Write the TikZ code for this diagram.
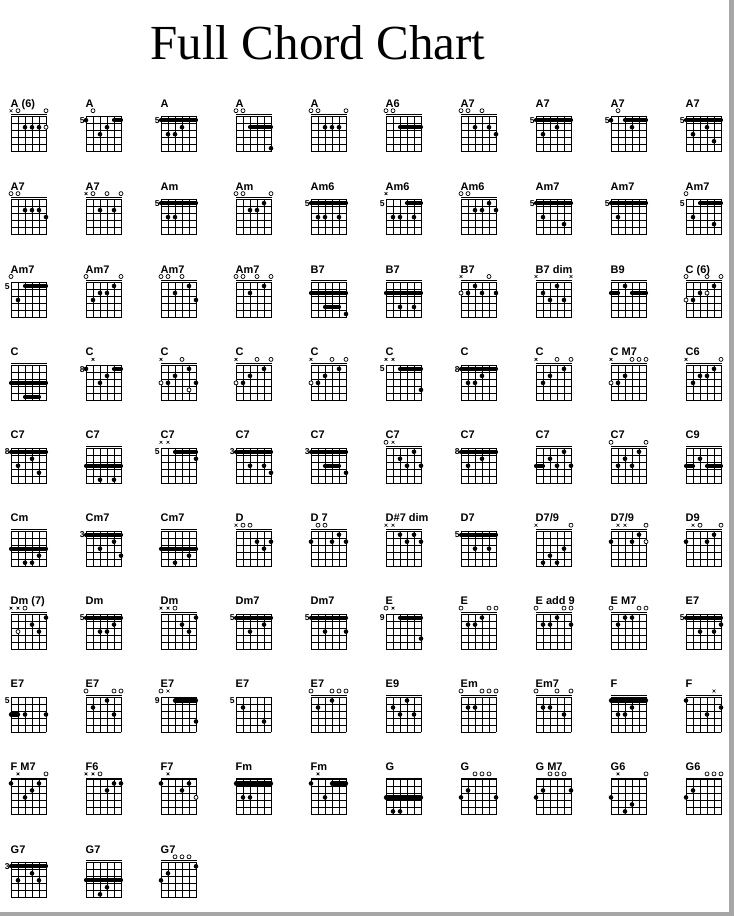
\documentclass[tikz,border=0pt]{standalone}
\usepackage{fontspec}
\setmainfont{Liberation Serif}
\newfontfamily\chartsans{Liberation Sans}
\usepackage{tikz}

\begin{document}
\begin{tikzpicture}[x=1pt,y=-1pt,
 fretline/.style={line width=.85pt,line cap=rect},
 nutline/.style={line width=.85pt},
 fingerdot/.style={fill=black},
 optdot/.style={draw=black,fill=white,line width=.7pt},
 barre/.style={line width=4.2pt,line cap=round},
 openmark/.style={draw=black,line width=.7pt},
 mutemark/.style={line width=.6pt},
 chordname/.style={anchor=base west,inner sep=0pt,
                   font=\chartsans\bfseries\fontsize{11}{12}\selectfont},
 fretno/.style={anchor=east,inner sep=0pt,
                font=\chartsans\bfseries\fontsize{8.5}{9}\selectfont}]
 \useasboundingbox (0,0) rectangle (734,916);
 \fill[black!35] (729,0) rectangle (734,916);
 \fill[black!35] (0,912) rectangle (734,916);
 \node[anchor=base,inner sep=0pt,font=\fontsize{49}{56}\selectfont] (title) at (318,59) {Full Chord Chart};
 % column / row / name / fret / top marks / dots / open dots / barres
 \foreach \c/\r/\lab/\fr/\mk/\dt/\ho/\br in {
  1/1/{A (6)}/{}/{x,o,n,n,n,o}/{3/2,4/2,5/2}/{6/2}/{},
  2/1/{A}/{5}/{n,o,n,n,n,n}/{1/1,4/2,3/3}/{}/{5/6/1},
  3/1/{A}/{5}/{}/{2/3,3/3,4/2}/{}/{1/6/1},
  4/1/{A}/{}/{o,o,n,n,n,n}/{6/5}/{}/{3/6/2},
  5/1/{A}/{}/{o,o,n,n,n,o}/{3/2,4/2,5/2}/{}/{},
  6/1/{A6}/{}/{o,o,n,n,n,n}/{}/{}/{3/6/2},
  7/1/{A7}/{}/{o,o,n,o,n,n}/{3/2,5/2,6/3}/{}/{},
  8/1/{A7}/{5}/{}/{2/3,4/2}/{}/{1/6/1},
  9/1/{A7}/{5}/{n,o,n,n,n,n}/{1/1,4/2}/{}/{3/6/1},
  10/1/{A7}/{5}/{}/{2/3,4/2,5/4}/{}/{1/6/1},
  1/2/{A7}/{}/{o,o,n,n,n,n}/{3/2,4/2,5/2,6/3}/{}/{},
  2/2/{A7}/{}/{x,o,n,o,n,o}/{3/2,5/2}/{}/{},
  3/2/{Am}/{5}/{}/{2/3,3/3}/{}/{1/6/1},
  4/2/{Am}/{}/{o,o,n,n,n,o}/{3/2,4/2,5/1}/{}/{},
  5/2/{Am6}/{5}/{}/{2/3,3/3,5/3}/{}/{1/6/1},
  6/2/{Am6}/{5}/{x,n,n,n,n,n}/{2/3,3/3,5/3}/{}/{4/6/1},
  7/2/{Am6}/{}/{o,o,n,n,n,n}/{3/2,4/2,5/1,6/2}/{}/{},
  8/2/{Am7}/{5}/{}/{2/3,5/4}/{}/{1/6/1},
  9/2/{Am7}/{5}/{}/{2/3}/{}/{1/6/1},
  10/2/{Am7}/{5}/{o,n,n,n,n,n}/{2/3,5/4}/{}/{3/6/1},
  1/3/{Am7}/{5}/{o,n,n,n,n,n}/{2/3}/{}/{3/6/1},
  2/3/{Am7}/{}/{o,n,n,n,n,o}/{2/3,3/2,4/2,5/1}/{}/{},
  3/3/{Am7}/{}/{o,o,n,o,n,n}/{3/2,5/1,6/3}/{}/{},
  4/3/{Am7}/{}/{o,o,n,o,n,o}/{3/2,5/1}/{}/{},
  5/3/{B7}/{}/{}/{6/5}/{}/{1/6/2,3/5/4},
  6/3/{B7}/{}/{}/{3/4,5/4}/{}/{1/6/2},
  7/3/{B7}/{}/{x,n,n,n,o,n}/{2/2,3/1,4/2,6/2}/{1/2}/{},
  8/3/{B7 dim}/{}/{x,n,n,n,n,x}/{2/2,4/1,3/3,5/3}/{}/{},
  9/3/{B9}/{}/{}/{3/1}/{}/{1/2/2,4/6/2},
  10/3/{C (6)}/{}/{o,n,n,o,n,o}/{5/1,3/2,2/3}/{4/2,1/3}/{},
  1/4/{C}/{}/{}/{}/{}/{1/6/3,3/5/5},
  2/4/{C}/{8}/{n,x,n,n,n,n}/{1/1,4/2,3/3}/{}/{5/6/1},
  3/4/{C}/{}/{x,n,n,o,n,n}/{5/1,3/2,2/3,6/3}/{1/3,5/4}/{},
  4/4/{C}/{}/{x,n,n,o,n,o}/{5/1,3/2,2/3}/{1/3}/{},
  5/4/{C}/{}/{x,n,n,o,n,o}/{5/1,3/2,2/3}/{1/3}/{},
  6/4/{C}/{5}/{x,x,n,n,n,n}/{6/4}/{}/{3/6/1},
  7/4/{C}/{8}/{}/{2/3,3/3,4/2}/{}/{1/6/1},
  8/4/{C}/{}/{x,n,n,o,n,o}/{5/1,3/2,2/3}/{}/{},
  9/4/{C M7}/{}/{x,n,n,o,o,o}/{3/2,2/3}/{1/3}/{},
  10/4/{C6}/{}/{x,n,n,n,n,o}/{5/1,3/2,4/2,2/3}/{}/{},
  1/5/{C7}/{8}/{}/{4/2,2/3,5/4}/{}/{1/6/1},
  2/5/{C7}/{}/{}/{3/5,5/5}/{}/{1/6/3},
  3/5/{C7}/{5}/{x,x,n,n,n,n}/{6/2}/{}/{3/6/1},
  4/5/{C7}/{3}/{}/{3/3,5/3,6/4}/{}/{1/6/1},
  5/5/{C7}/{3}/{}/{6/4}/{}/{1/6/1,3/5/3},
  6/5/{C7}/{}/{o,x,n,n,n,n}/{5/1,3/2,4/3,6/3}/{}/{},
  7/5/{C7}/{8}/{}/{2/3,4/2}/{}/{1/6/1},
  8/5/{C7}/{}/{}/{3/2,4/3,5/1,6/3}/{}/{1/2/3},
  9/5/{C7}/{}/{o,n,n,n,n,o}/{5/1,3/2,2/3,4/3}/{}/{},
  10/5/{C9}/{}/{}/{3/2}/{}/{1/2/3,4/6/3},
  1/6/{Cm}/{}/{}/{5/4,3/5,4/5}/{}/{1/6/3},
  2/6/{Cm7}/{3}/{}/{5/2,3/3,6/4}/{}/{1/6/1},
  3/6/{Cm7}/{}/{}/{5/4,3/5}/{}/{1/6/3},
  4/6/{D}/{}/{x,o,o,n,n,n}/{4/2,6/2,5/3}/{}/{},
  5/6/{D 7}/{}/{n,o,o,n,n,n}/{1/2,4/2,5/1,6/2}/{}/{},
  6/6/{D\#7 dim}/{}/{x,x,n,n,n,n}/{3/1,5/1,4/2,6/2}/{}/{},
  7/6/{D7}/{5}/{}/{3/3,5/3}/{}/{1/6/1},
  8/6/{D7/9}/{}/{x,n,n,n,n,o}/{5/3,3/4,2/5,4/5}/{}/{},
  9/6/{D7/9}/{}/{n,x,x,n,n,o}/{5/1,1/2,4/2}/{6/2}/{},
  10/6/{D9}/{}/{n,x,o,n,n,o}/{5/1,1/2,4/2}/{}/{},
  1/7/{Dm (7)}/{}/{x,x,o,n,n,n}/{4/2,5/3,6/1}/{2/3}/{},
  2/7/{Dm}/{5}/{}/{3/3,4/3,5/2}/{}/{1/6/1},
  3/7/{Dm}/{}/{x,x,o,n,n,n}/{4/2,5/3,6/1}/{}/{},
  4/7/{Dm7}/{5}/{}/{3/3,5/2}/{}/{1/6/1},
  5/7/{Dm7}/{5}/{}/{3/3,6/3}/{}/{1/6/1},
  6/7/{E}/{9}/{o,x,n,n,n,n}/{6/4}/{}/{3/6/1},
  7/7/{E}/{}/{o,n,n,n,o,o}/{2/2,3/2,4/1}/{}/{},
  8/7/{E add 9}/{}/{o,n,n,n,o,o}/{2/2,3/2,4/1,6/2}/{}/{},
  9/7/{E M7}/{}/{o,n,n,n,o,o}/{2/2,3/1,4/1}/{}/{},
  10/7/{E7}/{5}/{}/{3/3,5/3,6/2}/{}/{1/6/1},
  1/8/{E7}/{5}/{}/{3/3,6/3}/{}/{1/2/3},
  2/8/{E7}/{}/{o,n,n,n,o,o}/{2/2,4/1,5/3}/{}/{},
  3/8/{E7}/{9}/{o,x,n,n,n,n}/{6/4}/{}/{3/6/1},
  4/8/{E7}/{5}/{}/{2/2,5/4}/{}/{},
  5/8/{E7}/{}/{o,n,n,o,o,o}/{2/2,4/1}/{}/{},
  6/8/{E9}/{}/{}/{2/2,3/3,4/1,5/3}/{}/{},
  7/8/{Em}/{}/{o,n,n,o,o,o}/{2/2,3/2}/{}/{},
  8/8/{Em7}/{}/{o,n,n,o,n,o}/{2/2,3/2,5/3}/{}/{},
  9/8/{F}/{}/{}/{2/3,3/3,4/2}/{}/{1/6/1},
  10/8/{F}/{}/{n,n,n,n,x,n}/{1/1,4/3,6/2}/{}/{},
  1/9/{F M7}/{}/{n,x,n,n,n,o}/{1/1,3/3,4/2,5/1}/{}/{},
  2/9/{F6}/{}/{x,x,o,n,n,n}/{4/2,5/1,6/1}/{}/{},
  3/9/{F7}/{}/{n,x,n,n,n,n}/{1/1,4/2,5/1}/{6/3}/{},
  4/9/{Fm}/{}/{}/{2/3,3/3}/{}/{1/6/1},
  5/9/{Fm}/{}/{n,x,n,n,n,n}/{1/1,3/3}/{}/{4/6/1},
  6/9/{G}/{}/{}/{2/5,3/5}/{}/{1/6/3},
  7/9/{G}/{}/{n,n,o,o,o,n}/{1/3,2/2,6/3}/{}/{},
  8/9/{G M7}/{}/{n,n,o,o,o,n}/{1/3,2/2,6/2}/{}/{},
  9/9/{G6}/{}/{n,x,n,n,n,o}/{1/3,3/5,4/4}/{}/{},
  10/9/{G6}/{}/{n,n,n,o,o,o}/{1/3,2/2}/{}/{},
  1/10/{G7}/{3}/{}/{2/3,4/2,5/3}/{}/{1/6/1},
  2/10/{G7}/{}/{}/{3/5,4/4}/{}/{1/6/3},
  3/10/{G7}/{}/{n,n,o,o,o,n}/{1/3,2/2,6/1}/{}/{}}{
  \pgfmathsetmacro\X{11+75*(\c-1)}
  \pgfmathsetmacro\Y{116.7+82.9*(\r-1)}
  \begin{scope}[shift={(\X,\Y)}]
   \foreach \k in {0,...,5} {
     \draw[fretline] (7*\k,0) -- (7*\k,35);
     \draw[fretline] (0,7*\k) -- (35,7*\k);
   }
   \node[chordname] (name-\c-\r) at (-.5,-9.5) {\lab};
   \edef\tmp{\fr}\ifx\tmp\empty
     \draw[nutline] (0,-1.9) -- (35.6,-1.9);
   \else
     \node[fretno] (fret-\c-\r) at (-1.2,3.7) {\fr};
   \fi
   \edef\tmp{\mk}\ifx\tmp\empty\else
     \foreach \m [count=\s] in \mk {
       \if x\m \draw[mutemark] (7*\s-8.4,-7.4) -- ++(2.8,2.8) (7*\s-8.4,-4.6) -- ++(2.8,-2.8); \fi
       \if o\m \draw[openmark] (7*\s-7,-6) circle[radius=2pt]; \fi
     }
   \fi
   \edef\tmp{\br}\ifx\tmp\empty\else
     \foreach \a/\b/\f in \br \draw[barre] (7*\a-7,7*\f-3.5) -- (7*\b-7,7*\f-3.5);
   \fi
   \edef\tmp{\dt}\ifx\tmp\empty\else
     \foreach \s/\f in \dt \fill[fingerdot] (7*\s-7,7*\f-3.5) circle[radius=2.3pt];
   \fi
   \edef\tmp{\ho}\ifx\tmp\empty\else
     \foreach \s/\f in \ho \draw[optdot] (7*\s-7,7*\f-3.5) circle[radius=2pt];
   \fi
  \end{scope}
 }
\end{tikzpicture}
\end{document}
